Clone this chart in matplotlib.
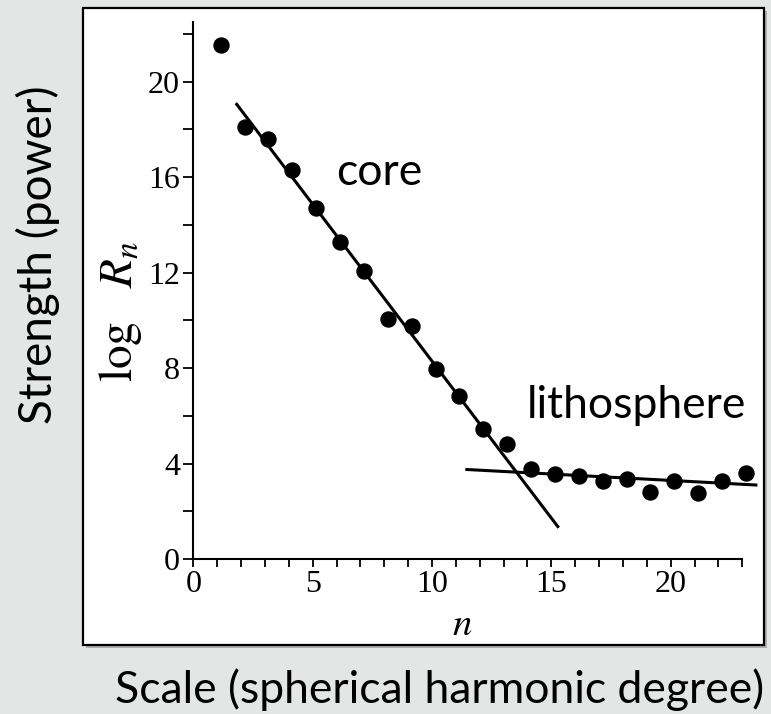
import matplotlib
matplotlib.use("Agg")
import matplotlib.pyplot as plt
from matplotlib.patches import Rectangle
from matplotlib.ticker import MultipleLocator

plt.rcParams['mathtext.fontset'] = 'stix'

# ---- data ----
degree = [1.15, 2.15, 3.15, 4.15, 5.15, 6.15, 7.15, 8.15, 9.15, 10.15, 11.15, 12.15,
          13.15, 14.15, 15.15, 16.15, 17.15, 18.15, 19.15, 20.15, 21.15, 22.15, 23.15]
log_rn = [21.55, 18.1, 17.58, 16.3, 14.7, 13.3, 12.05, 10.05, 9.75, 7.98, 6.83, 5.43,
          4.8, 3.76, 3.58, 3.47, 3.26, 3.36, 2.79, 3.26, 2.76, 3.27, 3.62]
core_fit_x = [1.82, 15.27]
core_fit_y = [19.05, 1.36]
litho_fit_x = [11.46, 23.57]
litho_fit_y = [3.75, 3.10]
x_ticks = [0, 5, 10, 15, 20]
y_ticks = [0, 4, 8, 12, 16, 20]

W, H = 771, 714
fig = plt.figure(figsize=(W / 100, H / 100), dpi=100)
fig.patch.set_facecolor('#e3e6e4')

# white framed box with shadow
bx0, by0, bx1, by1 = 82.5, 7.5, 764, 645
fig.patches.append(Rectangle((bx0 / W + 3 / W, 1 - by1 / H - 3 / H), (bx1 - bx0) / W, (by1 - by0) / H,
                             transform=fig.transFigure, facecolor='#8a8a8a', edgecolor='none',
                             alpha=0.6, zorder=-2))
fig.patches.append(Rectangle((bx0 / W, 1 - by1 / H), (bx1 - bx0) / W, (by1 - by0) / H,
                             transform=fig.transFigure, facecolor='white', edgecolor='black',
                             linewidth=1.6, zorder=-1))

ax_l, ax_r, ax_b, ax_t = 193.3, 742.3, 559, 22
ax = fig.add_axes([ax_l / W, 1 - ax_b / H, (ax_r - ax_l) / W, (ax_b - ax_t) / H])
ax.set_zorder(2)
ax.set_facecolor('none')

ax.plot(degree, log_rn, 'o', color='black', ms=10.8, clip_on=False, zorder=3)
ax.plot(core_fit_x, core_fit_y, '-', color='black', lw=2.2, clip_on=False, zorder=2)
ax.plot(litho_fit_x, litho_fit_y, '-', color='black', lw=2.2, clip_on=False, zorder=2)

ax.set_xlim(0, 23)
ax.set_ylim(0, 22.5)
for s in ['top', 'right']:
    ax.spines[s].set_visible(False)
for s in ['left', 'bottom']:
    ax.spines[s].set_linewidth(1.5)

ax.set_xticks(x_ticks)
ax.set_yticks(y_ticks)
ax.xaxis.set_minor_locator(MultipleLocator(1))
ax.yaxis.set_minor_locator(MultipleLocator(2))
serif = 'Liberation Serif'
ax.tick_params(axis='x', which='both', direction='out', length=5.5, width=1.3, pad=2.5)
ax.tick_params(axis='y', which='both', direction='out', length=7, width=1.3, pad=2.5)
for lab in ax.get_xticklabels() + ax.get_yticklabels():
    lab.set_fontfamily(serif)
    lab.set_fontsize(23)

ax.set_xlabel(r'$n$', fontsize=28)
ax.xaxis.set_label_coords(0.49, -0.085)
ax.set_ylabel(r'$\mathrm{log}\ \ \ R_n$', fontsize=34)
ax.yaxis.set_label_coords(-0.09, 0.46)

ax.text(7.8, 16.2, 'core', fontsize=32, fontfamily='Lato', ha='center', va='center')
ax.text(18.55, 6.45, 'lithosphere', fontsize=32, fontfamily='Lato', ha='center', va='center')

fig.text(440 / W, 1 - 690 / H, 'Scale (spherical harmonic degree)', fontsize=32,
         fontfamily='Lato', ha='center', va='center')
fig.text(38 / W, 1 - 255 / H, 'Strength (power)', fontsize=33, fontfamily='Lato',
         ha='center', va='center', rotation=90)

fig.savefig('out.png', dpi=100, facecolor=fig.get_facecolor())
